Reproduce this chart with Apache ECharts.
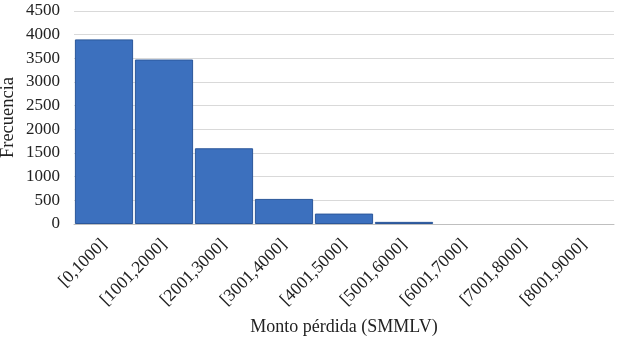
<!DOCTYPE html>
<html><head><meta charset="utf-8">
<script src="https://cdn.jsdelivr.net/npm/echarts@6/dist/echarts.min.js"></script>
<style>html,body{margin:0;padding:0;background:#fff}#c{width:624px;height:337px}</style>
</head><body><div id="c"></div>
<script>
const categories = ['[0,1000]','[1001,2000]','[2001,3000]','[3001,4000]','[4001,5000]','[5001,6000]','[6001,7000]','[7001,8000]','[8001,9000]'];
const frecuencia = [3900, 3475, 1600, 530, 220, 45, 0, 0, 0];
const yTicks = [0, 500, 1000, 1500, 2000, 2500, 3000, 3500, 4000, 4500];
const xTitle = 'Monto pérdida (SMMLV)';
const yTitle = 'Frecuencia';

const font = 'Liberation Serif';
const chart = echarts.init(document.getElementById('c'));
chart.setOption({
  animation: false,
  grid: {left: 74, right: 10, top: 11, bottom: 113, containLabel: false, outerBoundsMode: 'none'},
  xAxis: {
    type: 'category', data: categories,
    name: xTitle, nameLocation: 'middle', nameGap: 94, nameMoveOverlap: false,
    nameTextStyle: {fontFamily: font, fontSize: 18, color: '#222'},
    axisLine: {lineStyle: {color: '#bfbfbf'}},
    axisTick: {show: false},
    axisLabel: {rotate: 45, fontFamily: font, fontSize: 17.5, color: '#222', margin: 18, interval: 0}
  },
  yAxis: {
    type: 'value', min: yTicks[0], max: yTicks[yTicks.length-1], interval: 500,
    name: yTitle, nameLocation: 'middle', nameGap: 56, nameMoveOverlap: false,
    nameTextStyle: {fontFamily: font, fontSize: 18.5, color: '#222'},
    axisLine: {show: false}, axisTick: {show: false},
    axisLabel: {fontFamily: font, fontSize: 17, color: '#222', margin: 14, formatter: v => String(v)},
    splitLine: {lineStyle: {color: '#d9d9d9', width: 1}}
  },
  series: [{
    type: 'bar', data: frecuencia.map(v => v === 0 ? null : v), barCategoryGap: '3%',
    itemStyle: {color: '#3C70BE', borderColor: '#2B579A', borderWidth: 1}
  }]
});
</script></body></html>
